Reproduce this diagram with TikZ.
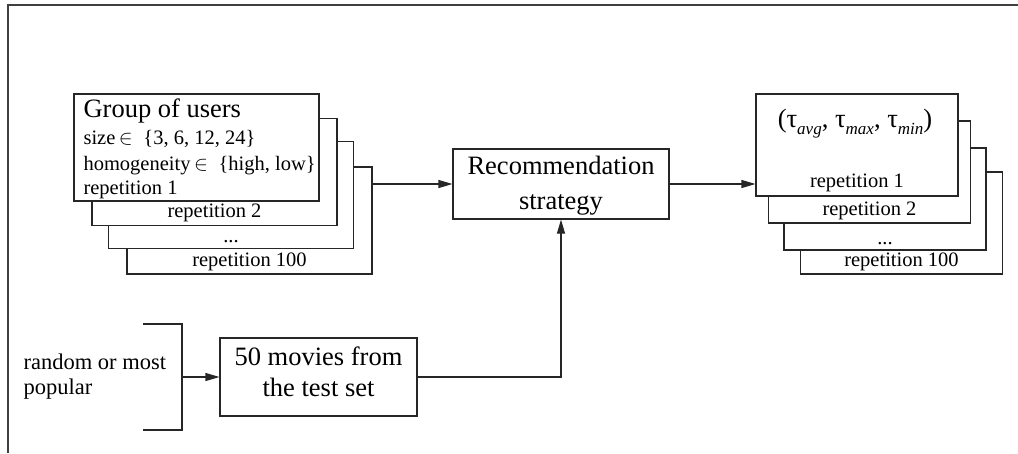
\documentclass[tikz,border=0pt]{standalone}
\usepackage{fontspec}
\setmainfont{Liberation Serif}
\usetikzlibrary{arrows.meta}
\begin{document}
\begin{tikzpicture}[x=1pt,y=-1pt,
  line width=1.1pt,
  box/.style={draw=black!85, fill=white, inner sep=0pt},
  lstack/.style={box, minimum width=245pt, minimum height=107pt},
  rstack/.style={box, minimum width=202pt, minimum height=102pt},
  small/.style={inner sep=0pt, font=\fontsize{20.5}{24}\selectfont},
  medium/.style={inner sep=0pt, font=\fontsize{22.5}{26}\selectfont},
  large/.style={inner sep=0pt, font=\fontsize{26.5}{32}\selectfont},
  arr/.style={draw=black!85, -{Triangle[length=14pt,width=8pt]}},
]
\useasboundingbox (0,0) rectangle (1018,453);

% outer frame (top and left sides only)
\draw[line width=1.5pt, black!75] (1018,5) -- (8,5) -- (8,453);

% stack of user groups, back to front
\node[lstack] (l4) at (249.5,220.5) {};
\node[lstack] (l3) at (231,195) {};
\node[lstack] (l2) at (214.5,172) {};
\node[lstack] (l1) at (196.5,147.5) {};
\node[small, anchor=base] (l4t) at (249.5,266.5) {repetition 100};
\node[small, anchor=base] (l3t) at (231,242) {...};
\node[small, anchor=base] (l2t) at (214.5,217.5) {repetition 2};
\node[large, anchor=base west] (l1a) at (83,117) {Group of users};
\node[small, anchor=base west] (l1b) at (83,144) {size\,$\in$\; \{3, 6, 12, 24\}};
\node[small, anchor=base west] (l1c) at (83,170) {homogeneity\,$\in$\; \{high, low\}};
\node[small, anchor=base west] (l1d) at (83,194) {repetition 1};

% recommendation strategy
\node[box, minimum width=216pt, minimum height=70pt] (rec) at (561,184) {};
\node[large, anchor=base] (reca) at (561,174) {Recommendation};
\node[large, anchor=base] (recb) at (561,209) {strategy};

% stack of results, back to front
\node[rstack] (r4) at (901.5,223) {};
\node[rstack] (r3) at (885,199) {};
\node[rstack] (r2) at (869.5,172) {};
\node[rstack] (r1) at (857,145) {};
\node[small, anchor=base] (r4t) at (901.5,266.5) {repetition 100};
\node[small, anchor=base] (r3t) at (885,244) {...};
\node[small, anchor=base] (r2t) at (869.5,215) {repetition 2};
\node[small, anchor=base] (r1b) at (857,187) {repetition 1};
\node[large, anchor=base] (r1a) at (855,127) {(τ\raisebox{-7pt}{\fontsize{17}{17}\selectfont\itshape avg}, τ\raisebox{-7pt}{\fontsize{17}{17}\selectfont\itshape max}, τ\raisebox{-7pt}{\fontsize{17}{17}\selectfont\itshape min})};

% movie selection
\node[medium, anchor=base west] (sel1) at (23,369) {random or most};
\node[medium, anchor=base west] (sel2) at (23,394) {popular};
\draw[draw=black!85] (143,324) -- (182,324) -- (182,430) -- (143,430);
\coordinate (brk) at (182,377);
\node[box, minimum width=197pt, minimum height=78pt] (movies) at (318.5,377) {};
\node[large, anchor=base] (mova) at (318.5,365) {50 movies from};
\node[large, anchor=base] (movb) at (318.5,396) {the test set};

% connectors
\draw[arr] (l4.east |- rec.west) -- (rec.west);
\draw[arr] (rec.east) -- (r1.west |- rec.east);
\draw[arr] (brk) -- (movies.west);
\draw[arr] (movies.east) -| (rec.south);
\end{tikzpicture}
\end{document}
